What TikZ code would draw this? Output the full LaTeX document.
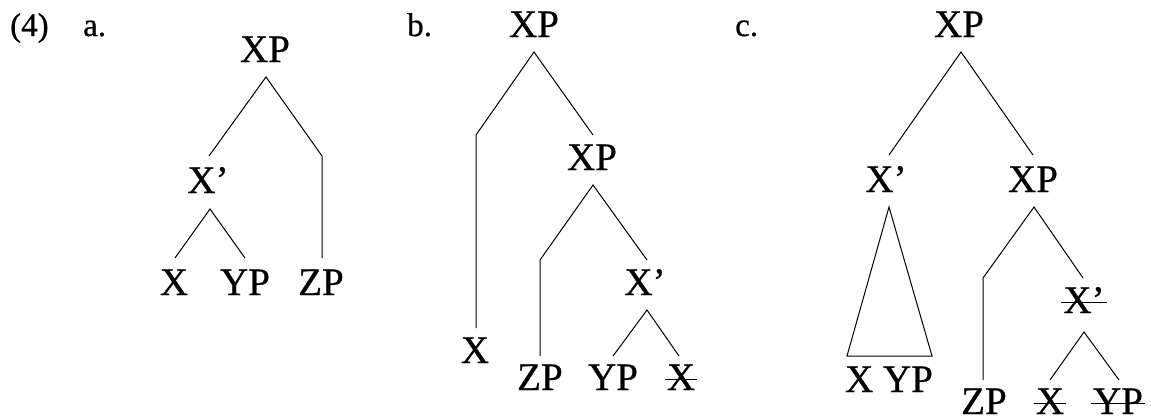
\documentclass[tikz,border=0pt]{standalone}
\usepackage{fontspec}
\setmainfont{Liberation Serif}
\newfontfamily\treefont{Liberation Serif}[FakeBold=0.6]
\tikzset{
  lbl/.style={font=\treefont\fontsize{39}{39}\selectfont, inner sep=0pt, outer sep=0pt, anchor=base},
  num/.style={font=\treefont\fontsize{33}{33}\selectfont, inner sep=0pt, anchor=base west},
  br/.style={line width=1pt, line join=miter},
  strk/.style={line width=1pt}
}
\newcommand\strikenode[1]{\draw[strk] ([xshift=-2pt,yshift=11pt]#1.base west) -- ([xshift=2pt,yshift=11pt]#1.base east);}
\begin{document}
\begin{tikzpicture}[x=1pt,y=-1pt]
\useasboundingbox (0,0) rectangle (1151,418);
% labels
\node[num] (n4) at (10,36) {(4)};
\node[num] (la) at (83,36) {a.};
\node[num] (lb) at (407,36) {b.};
\node[num] (lc) at (735,36) {c.};
% ---------- panel a
\node[lbl] (aXP) at (265,62) {XP};
\node[lbl] (aXb) at (208,193) {X’};
\node[lbl] (aX) at (174,295) {X};
\node[lbl] (aYP) at (245,295) {YP};
\node[lbl] (aZP) at (321,295) {ZP};
\coordinate (aXPd) at (266,77);
\coordinate (aXbu) at (209,156);
\coordinate (aZPk) at (322,156);
\coordinate (aZPu) at (322,258);
\coordinate (aXbd) at (210,209);
\coordinate (aXu) at (175,258);
\coordinate (aYPu) at (245,258);
\draw[br] (aXbu) -- (aXPd) -- (aZPk) -- (aZPu);
\draw[br] (aXu) -- (aXbd) -- (aYPu);
% ---------- panel b
\node[lbl] (bXP) at (534,37) {XP};
\node[lbl] (bXP2) at (592,170) {XP};
\node[lbl] (bXb) at (645,295) {X’};
\node[lbl] (bX) at (475,363) {X};
\node[lbl] (bZP) at (540,390) {ZP};
\node[lbl] (bYP) at (613,390) {YP};
\node[lbl] (bXs) at (681,390) {X};
\strikenode{bXs}
\coordinate (bXPd) at (534,52);
\coordinate (bXk) at (476,135);
\coordinate (bXu) at (476,328);
\coordinate (bXP2u) at (593,135);
\coordinate (bXP2d) at (593,185);
\coordinate (bZPk) at (540,260);
\coordinate (bZPu) at (540,356);
\coordinate (bXbu) at (647,260);
\coordinate (bXbd) at (647,310);
\coordinate (bYPu) at (613,356);
\coordinate (bXsu) at (679,356);
\draw[br] (bXu) -- (bXk) -- (bXPd) -- (bXP2u);
\draw[br] (bZPu) -- (bZPk) -- (bXP2d) -- (bXbu);
\draw[br] (bYPu) -- (bXbd) -- (bXsu);
% ---------- panel c
\node[lbl] (cXP) at (959,37) {XP};
\node[lbl] (cXb) at (886,192) {X’};
\node[lbl] (cXP2) at (1033,192) {XP};
\node[lbl] (cXYP) at (889,392) {X YP};
\node[lbl] (cXbs) at (1084,313) {X’};
\node[lbl] (cZP) at (984,414) {ZP};
\node[lbl] (cXs) at (1050,414) {X};
\node[lbl] (cYPs) at (1118,414) {YP};
\strikenode{cXbs}
\strikenode{cXs}
\strikenode{cYPs}
\coordinate (cXPd) at (961,52);
\coordinate (cXbu) at (889,155);
\coordinate (cXP2u) at (1033,155);
\coordinate (cXbd) at (889,207);
\coordinate (cTl) at (847,356);
\coordinate (cTr) at (932,356);
\coordinate (cXP2d) at (1034,207);
\coordinate (cZPk) at (983,278);
\coordinate (cZPu) at (983,380);
\coordinate (cXbsu) at (1083,278);
\coordinate (cXbsd) at (1084,332);
\coordinate (cXsu) at (1050,380);
\coordinate (cYPsu) at (1119,380);
\draw[br] (cXbu) -- (cXPd) -- (cXP2u);
\draw[br] (cXbd) -- (cTl) -- (cTr) -- cycle;
\draw[br] (cZPu) -- (cZPk) -- (cXP2d) -- (cXbsu);
\draw[br] (cXsu) -- (cXbsd) -- (cYPsu);
\end{tikzpicture}
\end{document}
